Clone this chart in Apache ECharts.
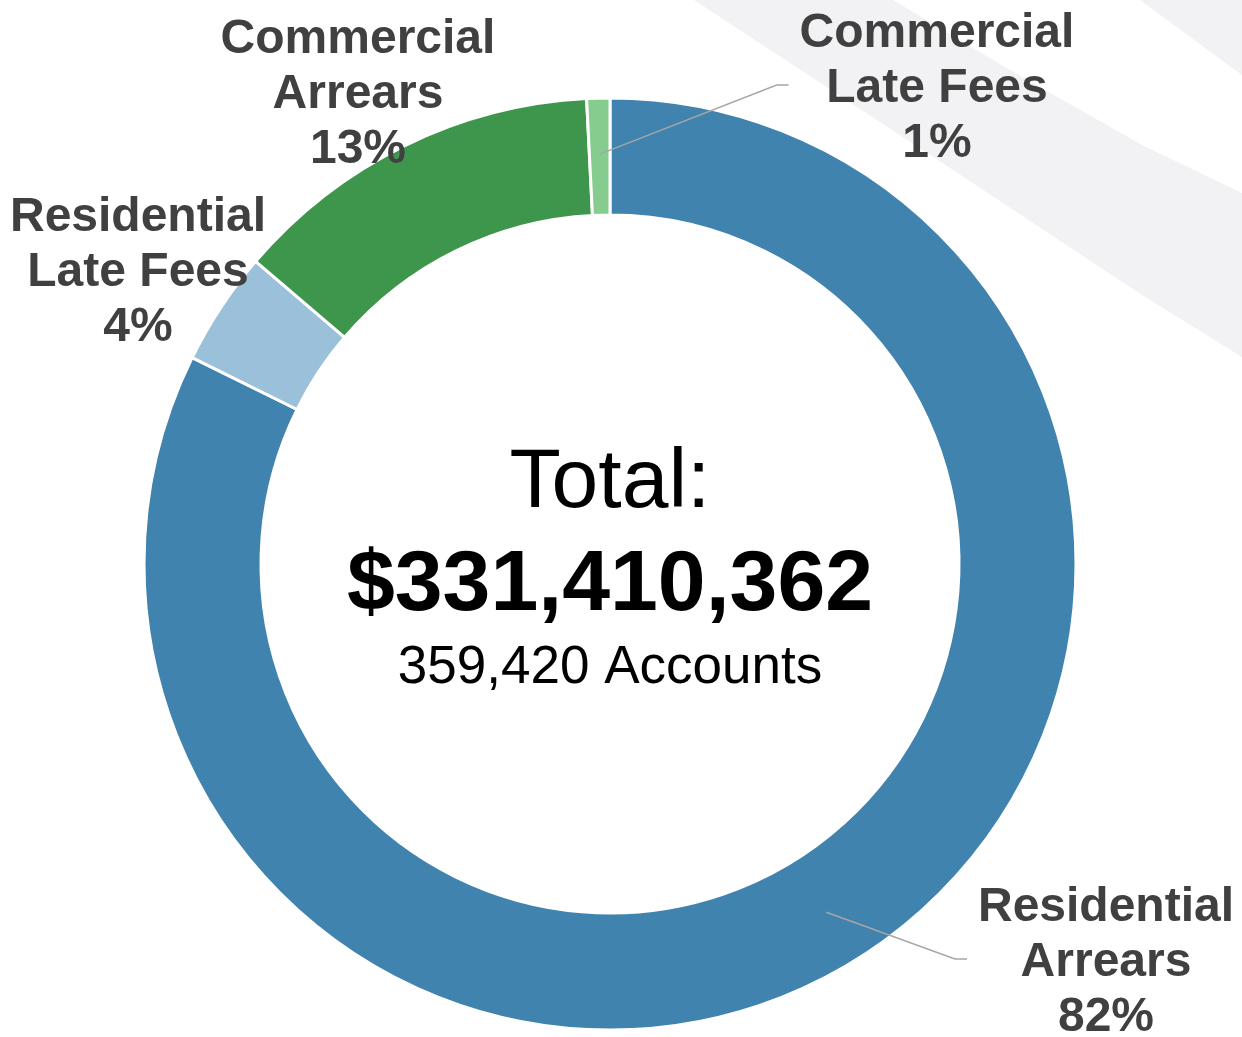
<!DOCTYPE html>
<html>
<head>
<meta charset="utf-8">
<script src="https://cdn.jsdelivr.net/npm/echarts@6/dist/echarts.min.js"></script>
<style>
  html, body { margin: 0; padding: 0; background: #fff; }
  #arrearsdonut { width: 1242px; height: 1037px; }
</style>
</head>
<body>
<div id="arrearsdonut"></div>
<script>
// share of total arrears, in percent
var categories = ["Residential Arrears", "Residential Late Fees", "Commercial Arrears", "Commercial Late Fees"];
var shares = [82.3, 3.95, 12.95, 0.8];
var colors = ["#4183AF", "#9BC1DA", "#3E964C", "#86CC8E"];
var totalText = "$331,410,362";
var accountsText = "359,420 Accounts";

// where each label block sits, and which ones get a leader line
var labelAnchor = [[1106, 963], [138, 273], [358, 95], [937, 89]];
var withLine = [true, false, false, true];

var cx = 610, cy = 564;
var rInner = 349, rOuter = 466;
var labelFont = "bold 48px 'Liberation Sans', Arial, sans-serif";

function midAngle(i) {
  var sum = 0, before = 0;
  for (var k = 0; k < shares.length; k++) {
    sum += shares[k];
    if (k < i) before += shares[k];
  }
  return (before + shares[i] / 2) / sum * Math.PI * 2;
}

function labelText(name, pct) {
  return name.replace(" ", "\n") + "\n" + Math.round(pct) + "%";
}

// leader lines: from inside the slice to the left side of its label
var measure = document.createElement("canvas").getContext("2d");
measure.font = labelFont;
var leaderLines = [];
categories.forEach(function (name, i) {
  if (!withLine[i]) return;
  var w = 0;
  name.split(" ").forEach(function (part) {
    w = Math.max(w, measure.measureText(part).width);
  });
  var a = midAngle(i);
  var r = 410;
  var left = labelAnchor[i][0] - w / 2;
  var ly = labelAnchor[i][1] - 4;
  leaderLines.push({
    type: "polyline",
    z: 50,
    shape: { points: [[cx + r * Math.sin(a), cy - r * Math.cos(a)], [left - 23, ly], [left - 11, ly]] },
    style: { stroke: "#A6A6A6", lineWidth: 1.5, fill: null }
  });
});

var chartDom = document.getElementById("arrearsdonut");
var myChart = echarts.init(chartDom);
var option;

option = {
  animation: false,
  backgroundColor: "#ffffff",
  graphic: [
    {
      type: "polygon",
      z: -10,
      shape: { points: [[694, 0], [893, 0], [1010, 70], [1142, 145], [1242, 193], [1242, 357], [1142, 295], [950, 168]] },
      style: { fill: "#F2F2F4" }
    },
    {
      type: "polygon",
      z: -10,
      shape: { points: [[1140, 0], [1242, 0], [1242, 75]] },
      style: { fill: "#F2F2F4" }
    },
    {
      type: "text",
      x: cx, y: 484,
      style: { text: "Total:", fill: "#000", font: "84px 'Liberation Sans', Arial, sans-serif", textAlign: "center", textVerticalAlign: "middle" }
    },
    {
      type: "text",
      x: cx, y: 586,
      style: { text: totalText, fill: "#000", font: "bold 86px 'Liberation Sans', Arial, sans-serif", textAlign: "center", textVerticalAlign: "middle" }
    },
    {
      type: "text",
      x: cx, y: 668,
      style: { text: accountsText, fill: "#000", font: "53px 'Liberation Sans', Arial, sans-serif", textAlign: "center", textVerticalAlign: "middle" }
    }
  ].concat(leaderLines),
  series: [
    {
      type: "pie",
      center: [cx, cy],
      radius: [rInner, rOuter],
      startAngle: 90,
      clockwise: true,
      avoidLabelOverlap: false,
      itemStyle: { borderColor: "#ffffff", borderWidth: 3 },
      label: {
        show: true,
        position: "outside",
        color: "#404040",
        fontFamily: "'Liberation Sans', Arial, sans-serif",
        fontWeight: "bold",
        fontSize: 48,
        lineHeight: 55,
        align: "center",
        formatter: function (p) {
          return labelText(p.name, p.percent);
        }
      },
      labelLine: { show: false },
      labelLayout: function (params) {
        var i = params.dataIndex;
        return { x: labelAnchor[i][0], y: labelAnchor[i][1], align: "center", verticalAlign: "middle" };
      },
      data: categories.map(function (name, i) {
        return { name: name, value: shares[i], itemStyle: { color: colors[i] } };
      })
    }
  ]
};

option && myChart.setOption(option);
</script>
</body>
</html>
